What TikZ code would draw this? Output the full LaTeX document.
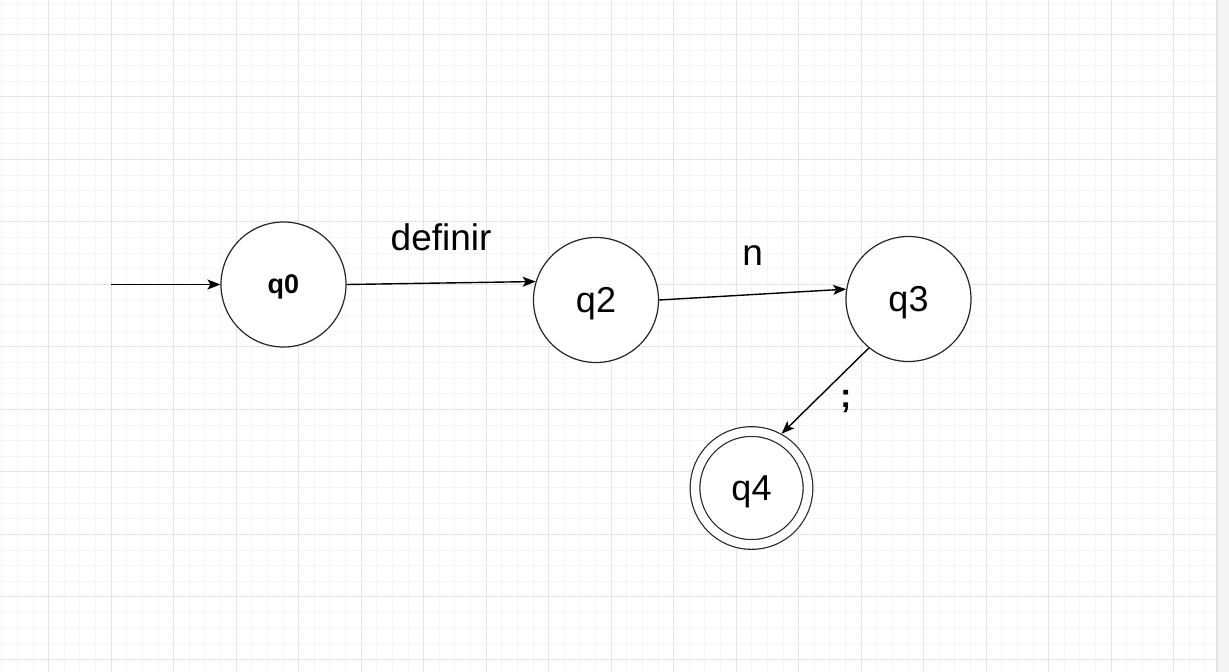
\documentclass[tikz,border=0pt]{standalone}
\usepackage{fontspec}
\setmainfont{Liberation Sans}
\usepackage{tikz}
\usetikzlibrary{arrows.meta}
\definecolor{gridmajor}{RGB}{228,228,228}
\definecolor{gridminor}{RGB}{246,246,246}
\definecolor{panel}{RGB}{243,244,246}
\tikzset{
  state/.style={circle, draw=black!85, line width=1.2pt, fill=white, minimum size=125pt, inner sep=0pt, text depth=0pt, font=\fontsize{36}{42}\selectfont},
  accepting/.style={state, double, double distance=8.5pt, minimum size=113pt, outer sep=5.5pt},
  trans/.style={line width=1.4pt, -{Stealth[length=13pt, width=10pt, inset=3pt]}},
  lbl/.style={inner sep=0pt, font=\fontsize{37}{44}\selectfont}
}
\begin{document}
\begin{tikzpicture}[x=1pt, y=-1pt]
		\useasboundingbox (0,0) rectangle (1229,672);
		\fill[white] (0,0) rectangle (1229,672);
		% rejilla
		\foreach \i in {0,...,77}
			\draw[gridminor, line width=0.8pt] ({1.73+15.625*\i},0) -- ({1.73+15.625*\i},672);
		\foreach \i in {0,...,42}
			\draw[gridminor, line width=0.8pt] (0,{3.05+15.625*\i}) -- (1215,{3.05+15.625*\i});
		\foreach \i in {0,...,18}
			\draw[gridmajor, line width=1.2pt] ({48.6+62.5*\i},0) -- ({48.6+62.5*\i},672);
		\foreach \i in {0,...,10}
			\draw[gridmajor, line width=1.2pt] (0,{34.3+62.5*\i}) -- (1215,{34.3+62.5*\i});
		\fill[panel] (1216,0) rectangle (1229,672);
		\draw[gridmajor, line width=2pt] (1217,0) -- (1217,672);
		
		% estados
		\node[state, font=\fontsize{27}{32}\selectfont\bfseries] (q0) at (283.5,284.5) {q0};
		\node[state] (q2) at (596,300) {q2};
		\node[state] (q3) at (908.5,299) {q3};
		\node[accepting] (q4) at (751.5,488) {q4};
		\coordinate (start) at (111,284.5);
		
		% transiciones
		\draw[trans] (start) -- (q0);
		\draw[trans] (q0.east) -- (q2.163) node[lbl, midway, above=31pt] {definir};
		\draw[trans] (q2.east) -- (q3.171) node[lbl, midway, above=28.5pt] {n};
		\draw[trans] (q3.231) -- (q4.61) node[lbl, midway, xshift=20.5pt, yshift=-11pt, font=\fontsize{34}{40}\selectfont\bfseries] {;};
	\end{tikzpicture}
\end{document}
